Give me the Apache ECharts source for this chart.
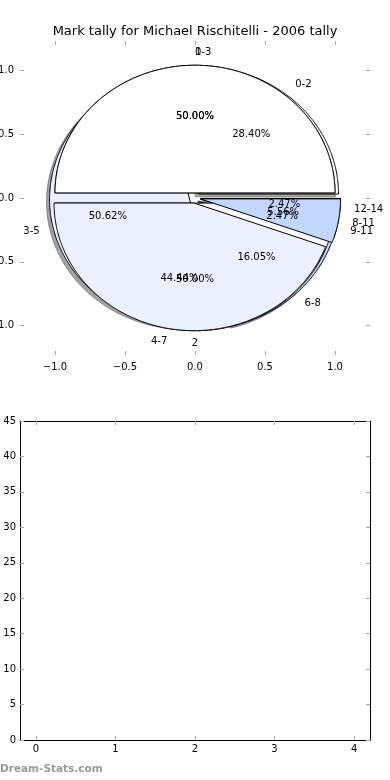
<!DOCTYPE html>
<html><head><meta charset="utf-8">
<script src="https://cdn.jsdelivr.net/npm/echarts@6/dist/echarts.min.js"></script>
<style>html,body{margin:0;padding:0;background:#fff}#c{width:390px;height:780px}</style>
</head><body><div id="c"></div>
<script>
const chartTitle = 'Mark tally for Michael Rischitelli - 2006 tally';
const pieALabels = ['1', '2'];
const pieAValues = [1, 1];
const pieBLabels = ['0-3', '4-7', '8-11'];
const pieBValues = [9, 8, 1];
const pieCLabels = ['0-2', '3-5', '6-8', '9-11', '12-14'];
const pieCValues = [23, 41, 13, 2, 2];
const pieTicks = [-1, -0.5, 0, 0.5, 1];
const barXTicks = [0, 1, 2, 3, 4];
const barYTicks = [0, 5, 10, 15, 20, 25, 30, 35, 40, 45];

const pieAColors = ['#ffffff', '#ffffff'];
const pieBColors = ['#ffffff', '#eaf0fd', '#c3d6fb'];
const pieCColors = ['#ffffff', '#eaf0fd', '#c3d6fb', '#a9c4f6', '#8fb2f2'];
const EXPLODE = 0.04;
const SHADOW = -0.022;
const FONT = 'DejaVu Sans';

function slices(values) {
  const total = values.reduce((a, b) => a + b, 0);
  let acc = 0;
  return values.map(v => {
    const t1 = acc / total * 360; acc += v; const t2 = acc / total * 360;
    const mid = (t1 + t2) / 2 * Math.PI / 180;
    return { t1, t2, mid, frac: v / total, cx: EXPLODE * Math.cos(mid), cy: EXPLODE * Math.sin(mid) };
  });
}
function wedgePoints(api, s, ox, oy) {
  const pts = [api.coord([s.cx + ox, s.cy + oy])];
  const n = Math.max(2, Math.ceil(s.t2 - s.t1) * 2);
  for (let k = 0; k <= n; k++) {
    const a = (s.t1 + (s.t2 - s.t1) * k / n) * Math.PI / 180;
    pts.push(api.coord([s.cx + ox + Math.cos(a), s.cy + oy + Math.sin(a)]));
  }
  return pts;
}
function shadeColor(hex) {
  const r = parseInt(hex.slice(1, 3), 16), g = parseInt(hex.slice(3, 5), 16), b = parseInt(hex.slice(5, 7), 16);
  return 'rgba(' + Math.round(r * 0.3) + ',' + Math.round(g * 0.3) + ',' + Math.round(b * 0.3) + ',0.5)';
}
function wedgeSeries(values, colors, shadow) {
  const sl = slices(values);
  return {
    type: 'custom', coordinateSystem: 'cartesian2d', xAxisIndex: 0, yAxisIndex: 0,
    data: values.map((v, i) => [0, 0, v, i]), silent: true,
    renderItem: function (params, api) {
      const s = sl[params.dataIndex];
      const c = colors[params.dataIndex];
      if (shadow) {
        return { type: 'polygon', shape: { points: wedgePoints(api, s, SHADOW, SHADOW) },
          style: { fill: shadeColor(c), stroke: shadeColor(c), lineWidth: 1 } };
      }
      return { type: 'polygon', shape: { points: wedgePoints(api, s, 0, 0) },
        style: { fill: c, stroke: '#000', lineWidth: 1 } };
    }
  };
}
function textSeries(values, labels) {
  const sl = slices(values);
  return {
    type: 'custom', coordinateSystem: 'cartesian2d', xAxisIndex: 0, yAxisIndex: 0,
    data: values.map((v, i) => [0, 0, v, i]), silent: true, z: 5,
    renderItem: function (params, api) {
      const s = sl[params.dataIndex];
      const xt = s.cx + 1.1 * Math.cos(s.mid), yt = s.cy + 1.1 * Math.sin(s.mid);
      const p1 = api.coord([xt, yt]);
      const p2 = api.coord([s.cx + 0.6 * Math.cos(s.mid), s.cy + 0.6 * Math.sin(s.mid)]);
      const ha = Math.abs(xt) < 1e-9 ? (yt > 0 ? 'left' : 'center') : (xt > 0 ? 'left' : 'right');
      return { type: 'group', children: [
        { type: 'text', style: { text: labels[params.dataIndex], x: p1[0], y: p1[1], align: ha,
          verticalAlign: 'middle', fill: '#000', font: '10px ' + FONT } },
        { type: 'text', style: { text: (s.frac * 100).toFixed(2) + '%', x: p2[0], y: p2[1], align: 'center',
          verticalAlign: 'middle', fill: '#000', font: '10px ' + FONT } }
      ] };
    }
  };
}
const fmt1 = v => (v < 0 ? '\u2212' : '') + Math.abs(v).toFixed(1);
const tickStyle = { inside: true, length: 4, lineStyle: { color: '#a8a8a8', width: 1 } };
const labelStyle = { color: '#000', fontSize: 10, fontFamily: FONT };
const noLine = { show: false, onZero: false };
const boxLine = { show: true, onZero: false, lineStyle: { color: '#000', width: 1 } };

const chart = echarts.init(document.getElementById('c'), null, { renderer: 'canvas' });
chart.setOption({
  animation: false,
  backgroundColor: '#fff',
  title: { text: chartTitle, left: 'center', top: 20, textStyle: { fontSize: 13, fontWeight: 'normal', color: '#000', fontFamily: FONT } },
  grid: [
    { left: 20, width: 350, top: 41, height: 314, show: false, outerBoundsMode: 'none', containLabel: false },
    { left: 20, width: 350, top: 421, height: 319, show: false, outerBoundsMode: 'none', containLabel: false }
  ],
  xAxis: [
    { type: 'value', gridIndex: 0, position: 'bottom', min: -1.25, max: 1.25, axisLine: noLine, splitLine: { show: false },
      axisTick: Object.assign({ customValues: pieTicks }, tickStyle),
      axisLabel: Object.assign({ customValues: pieTicks, formatter: fmt1, margin: 7 }, labelStyle) },
    { type: 'value', gridIndex: 0, position: 'top', min: -1.25, max: 1.25, axisLine: noLine, splitLine: { show: false },
      axisTick: Object.assign({ customValues: pieTicks }, tickStyle), axisLabel: { show: false } },
    { type: 'value', gridIndex: 1, position: 'bottom', min: -0.2, max: 4.2, axisLine: boxLine, splitLine: { show: false },
      axisTick: Object.assign({ customValues: barXTicks }, tickStyle),
      axisLabel: Object.assign({ customValues: barXTicks, margin: 4 }, labelStyle) },
    { type: 'value', gridIndex: 1, position: 'top', min: -0.2, max: 4.2, axisLine: boxLine, splitLine: { show: false },
      axisTick: Object.assign({ customValues: barXTicks }, tickStyle), axisLabel: { show: false } }
  ],
  yAxis: [
    { type: 'value', gridIndex: 0, position: 'left', min: -1.23, max: 1.23, axisLine: noLine, splitLine: { show: false },
      axisTick: Object.assign({ customValues: pieTicks }, tickStyle),
      axisLabel: Object.assign({ customValues: pieTicks, formatter: fmt1, margin: 6 }, labelStyle) },
    { type: 'value', gridIndex: 0, position: 'right', min: -1.23, max: 1.23, axisLine: noLine, splitLine: { show: false },
      axisTick: Object.assign({ customValues: pieTicks }, tickStyle), axisLabel: { show: false } },
    { type: 'value', gridIndex: 1, position: 'left', min: 0, max: 45, axisLine: boxLine, splitLine: { show: false },
      axisTick: Object.assign({ customValues: barYTicks }, tickStyle),
      axisLabel: Object.assign({ customValues: barYTicks, margin: 4 }, labelStyle) },
    { type: 'value', gridIndex: 1, position: 'right', min: 0, max: 45, axisLine: boxLine, splitLine: { show: false },
      axisTick: Object.assign({ customValues: barYTicks }, tickStyle), axisLabel: { show: false } }
  ],
  series: [
    wedgeSeries(pieCValues, pieCColors, true),
    wedgeSeries(pieCValues, pieCColors, false),
    wedgeSeries(pieAValues, pieAColors, false),
    wedgeSeries(pieBValues, pieBColors, false),
    textSeries(pieCValues, pieCLabels),
    textSeries(pieAValues, pieALabels),
    textSeries(pieBValues, pieBLabels),
    { type: 'bar', xAxisIndex: 2, yAxisIndex: 2, data: [] }
  ],
  graphic: [
    { type: 'text', left: 0, top: 764, style: { text: 'Dream-Stats.com', font: 'bold 10.5px ' + FONT, fill: '#9a9a9a' } }
  ]
});
</script>
</body></html>
